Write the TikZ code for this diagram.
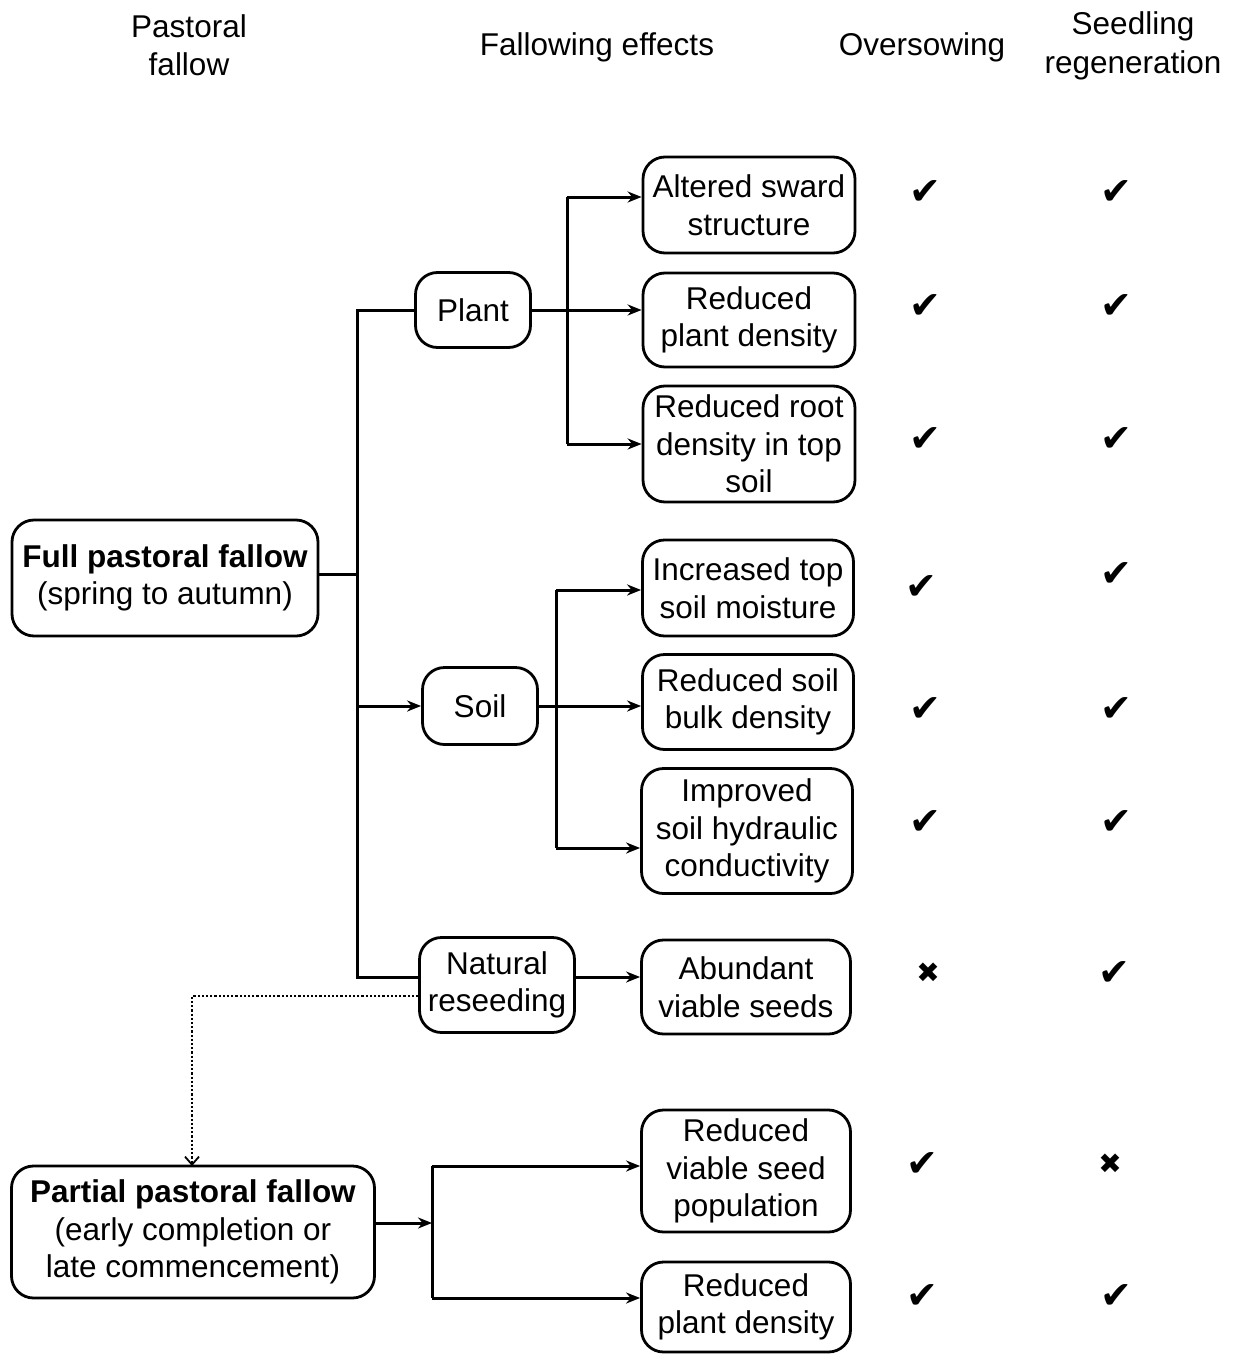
\documentclass[tikz,border=0pt]{standalone}
\usepackage{fontspec}
\setmainfont{Liberation Sans}
\newfontfamily\symfont{DejaVu Sans}
\usetikzlibrary{arrows.meta}
\begin{document}
\begin{tikzpicture}[x=1pt,y=-1pt,
  every node/.style={font=\fontsize{31.5}{37.5}\selectfont, inner sep=0pt, align=center},
  box/.style={draw, line width=2.8pt, rounded corners=22pt},
  conn/.style={line width=3pt},
  arr/.style={conn, -{Stealth[length=14pt,width=11pt]}},
  hdr/.style={font=\fontsize{31.5}{38.5}\selectfont},
  mk/.style={font=\symfont\fontsize{38}{38}\selectfont},
  xk/.style={font=\symfont\fontsize{28}{28}\selectfont}
]
\useasboundingbox (0,0) rectangle (1244,1354);
% headers
\node[hdr] (h1) at (189,45) {Pastoral\\fallow};
\node[hdr] (h2) at (597,47) {Fallowing effects};
\node[hdr] (h3) at (922,47) {Oversowing};
\node[hdr] (h4) at (1133,46) {Seedling\\regeneration};
% left boxes
\node[box, minimum width=306pt, minimum height=116pt] (full) at (165,578) {\textbf{Full pastoral fallow}\\(spring to autumn)};
\node[box, minimum width=363pt, minimum height=132pt] (part) at (193,1232) {\textbf{Partial pastoral fallow}\\(early completion or\\late commencement)};
% middle boxes
\node[box, minimum width=115pt, minimum height=75pt] (plant) at (473,310) {Plant};
\node[box, minimum width=115pt, minimum height=77pt] (soil) at (480,706) {Soil};
\node[box, minimum width=155pt, minimum height=95pt] (nat) at (497,985) {Natural\\reseeding};
% right boxes
\node[box, minimum width=212pt, minimum height=96pt] (r1) at (749,205) {Altered sward\\structure};
\node[box, minimum width=212pt, minimum height=94pt] (r2) at (749,320) {Reduced\\plant density};
\node[box, minimum width=212pt, minimum height=116pt] (r3) at (749,444) {Reduced root\\density in top\\soil};
\node[box, minimum width=211pt, minimum height=96pt] (r4) at (748,588) {Increased top\\soil moisture};
\node[box, minimum width=211pt, minimum height=95pt] (r5) at (748,702) {Reduced soil\\bulk density};
\node[box, minimum width=211pt, minimum height=125pt] (r6) at (747,831) {Improved\\soil hydraulic\\conductivity};
\node[box, minimum width=209pt, minimum height=94pt] (r7) at (746,987) {Abundant\\viable seeds};
\node[box, minimum width=209pt, minimum height=122pt] (r8) at (746,1171) {Reduced\\viable seed\\population};
\node[box, minimum width=209pt, minimum height=90pt] (r9) at (746,1307) {Reduced\\plant density};
% marks
\node[mk] (m1a) at (925,193) {✔};  \node[mk] (m1b) at (1116,193) {✔};
\node[mk] (m2a) at (925,307) {✔};  \node[mk] (m2b) at (1116,307) {✔};
\node[mk] (m3a) at (925,440) {✔};  \node[mk] (m3b) at (1116,440) {✔};
\node[mk] (m4a) at (921,588) {✔};  \node[mk] (m4b) at (1116,575) {✔};
\node[mk] (m5a) at (925,710) {✔};  \node[mk] (m5b) at (1116,710) {✔};
\node[mk] (m6a) at (925,823) {✔};  \node[mk] (m6b) at (1116,823) {✔};
\node[xk] (m7a) at (928,973) {✖};  \node[mk] (m7b) at (1114,974) {✔};
\node[mk] (m8a) at (922,1164) {✔};  \node[xk] (m8b) at (1110,1164) {✖};
\node[mk] (m9a) at (922,1296) {✔};  \node[mk] (m9b) at (1116,1296) {✔};
% trunk
\coordinate (tk) at (357,574);
\draw[conn] (full.east |- tk) -- (tk);
\draw[conn] (plant.west) -- (357,310) -- (357,977) -- (nat.west |- 0,977);
\draw[arr] (357,706) -- (soil.west);
% plant branches
\draw[arr] (plant.east) -- (r2.west |- plant.east);
\draw[arr] (567,197) -- (r1.west |- 0,197);
\draw[conn] (567,197) -- (567,444);
\draw[arr] (567,444) -- (r3.west);
% soil branches
\draw[arr] (soil.east) -- (r5.west |- soil.east);
\draw[conn] (556,590) -- (556,848);
\draw[arr] (556,590) -- (r4.west |- 0,590);
\draw[arr] (556,848) -- (r6.west |- 0,848);
% natural
\draw[arr] (nat.east |- 0,977) -- (r7.west |- 0,977);
% dotted
\draw[line width=2.2pt, dotted, -{Straight Barb[length=8pt,width=14pt,line width=1.8pt]}] (nat.west |- 0,996) -- (192,996) -- (192,1166);
% partial
\draw[arr] (part.east |- 0,1223) -- (432,1223);
\draw[conn] (432,1166) -- (432,1298);
\draw[arr] (432,1166) -- (r8.west |- 0,1166);
\draw[arr] (432,1298) -- (r9.west |- 0,1298);
\end{tikzpicture}
\end{document}
